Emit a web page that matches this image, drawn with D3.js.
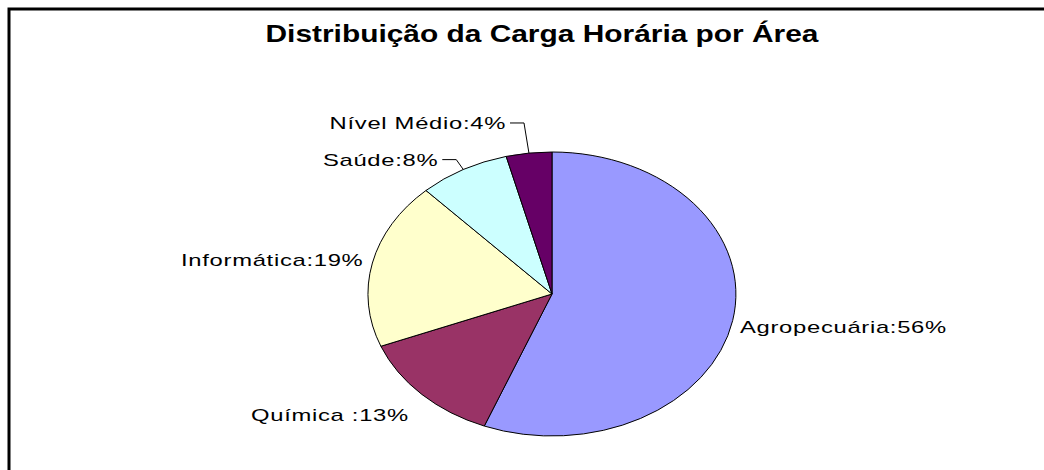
<!DOCTYPE html>
<html>
<head>
<meta charset="utf-8">
<script src="https://cdn.jsdelivr.net/npm/d3@7"></script>
<style>
  body { margin: 0; background: #fff; }
  text { font-family: Arial, "Liberation Sans", sans-serif; fill: #000; }
</style>
</head>
<body>
<svg id="chart" width="1044" height="470"></svg>
<script>
const title = "Distribuição da Carga Horária por Área"
const categories = ["Agropecuária", "Química ", "Informática", "Saúde", "Nível Médio"]
const values = [56, 13, 19, 8, 4]
const colors = ["#9999FF", "#993366", "#FFFFCC", "#CCFFFF", "#660066"]

// label placement: radial factor, extra vertical shift, leader line or not
const labelLayout = [
  { k: 1.04, dy: 5, leader: false },
  { k: 1.1, dy: 11, leader: false },
  { k: 1.05, dy: -1, leader: false },
  { k: 1.08, dy: 0, leader: true, hx: 14 },
  { k: 1.214, dy: 0, leader: true, hx: 14 }
]

const svg = d3.select("#chart")
const sx = 1.4   // the original picture is stretched sideways

// frame
svg.append("rect")
   .attr("x", 9).attr("y", 9)
   .attr("width", 1100).attr("height", 500)
   .attr("fill", "none")
   .attr("stroke", "#000")
   .attr("stroke-width", 3)

// title
svg.append("g")
   .attr("transform", `translate(542,42) scale(1.3,1)`)
   .append("text")
   .text(title)
   .attr("text-anchor", "middle")
   .attr("font-size", 23)
   .attr("font-weight", "bold")
   .attr("letter-spacing", 0)

const cx = 552, cy = 294, rx = 184, ry = 142

const pie = d3.pie().sort(null).value(d => d)
const arcs = pie(values)
const arc = d3.arc().innerRadius(0).outerRadius(1)

const pieG = svg.append("g")
   .attr("transform", `translate(${cx},${cy}) scale(${rx},${ry})`)

pieG.selectAll("path")
    .data(arcs)
    .enter()
    .append("path")
    .attr("d", arc)
    .attr("fill", (d, i) => colors[i])
    .attr("stroke", "#000")
    .attr("stroke-width", 1)
    .attr("vector-effect", "non-scaling-stroke")

// point on the ellipse at angle a (clockwise from top), radius factor k
const pt = (a, k) => [cx + Math.sin(a) * rx * k, cy - Math.cos(a) * ry * k]

arcs.forEach((d, i) => {
  const lay = labelLayout[i]
  const mid = (d.startAngle + d.endAngle) / 2
  const left = Math.sin(mid) < 0
  const label = categories[i] + ":" + values[i] + "%"
  let tx, ty
  if (lay.leader) {
    const p0 = pt(mid, 1)
    const p1 = pt(mid, lay.k)
    const p2 = [p1[0] + (left ? -lay.hx : lay.hx), p1[1]]
    svg.append("path")
       .attr("d", d3.line()([p0, p1, p2]))
       .attr("fill", "none")
       .attr("stroke", "#000")
       .attr("stroke-width", 1)
    tx = p2[0] + (left ? -4 : 4)
    ty = p2[1]
  } else {
    const p = pt(mid, lay.k)
    tx = p[0]
    ty = p[1] + lay.dy
  }
  svg.append("g")
     .attr("transform", `translate(${tx},${ty}) scale(${sx},1)`)
     .append("text")
     .text(label)
     .attr("text-anchor", left ? "end" : "start")
     .attr("dy", "0.35em")
     .attr("font-size", 17)
     .attr("letter-spacing", 0.5)
})
</script>
</body>
</html>
